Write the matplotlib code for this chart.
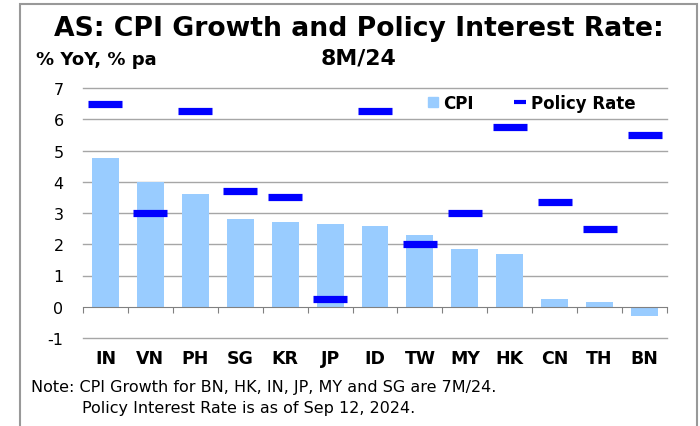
import matplotlib.pyplot as plt
from matplotlib.lines import Line2D
from matplotlib.patches import Rectangle

countries = ["IN", "VN", "PH", "SG", "KR", "JP", "ID", "TW", "MY", "HK", "CN", "TH", "BN"]
cpi = [4.75, 4.0, 3.6, 2.8, 2.7, 2.65, 2.6, 2.3, 1.85, 1.7, 0.25, 0.15, -0.3]
policy = [6.5, 3.0, 6.25, 3.7, 3.5, 0.25, 6.25, 2.0, 3.0, 5.75, 3.35, 2.5, 5.5]
yticks = [-1, 0, 1, 2, 3, 4, 5, 6, 7]

bar_col = "#99CCFF"
rate_col = "#0000FF"
grid_col = "#A6A6A6"

plt.rcParams['font.family'] = ['DejaVu Sans']

fig = plt.figure(figsize=(7, 4.27), dpi=100)
ax = fig.add_axes([83/700, 1-339/427, (667-83)/700, (339-89)/427])

x = list(range(len(countries)))
ax.bar(x, cpi, width=0.6, color=bar_col, zorder=2)
ax.plot(x, policy, linestyle='none', marker='_', ms=25, mew=5.2, color=rate_col, zorder=3)

ax.set_xlim(-0.5, len(countries)-0.5)
ax.set_ylim(-1, 7)
ax.set_yticks(yticks)
ax.set_yticklabels([str(v) for v in yticks], fontsize=11.5)
ax.tick_params(axis='y', length=0, pad=14)
for v in yticks:
    if v != 0:
        ax.axhline(v, color=grid_col, lw=1, zorder=1, clip_on=False)

for s in ['left', 'right', 'top']:
    ax.spines[s].set_visible(False)
ax.spines['bottom'].set_position(('data', 0))
ax.spines['bottom'].set_color('#808080')
ax.spines['bottom'].set_zorder(4)
ax.set_xticks([i - 0.5 for i in range(len(countries)+1)])
ax.set_xticklabels([])
ax.tick_params(axis='x', length=4, direction='out', color='#808080')

for i, c in enumerate(countries):
    ax.text(i, -1.64, c, ha='center', va='center', fontsize=12.5, fontweight='bold')

handles = [Line2D([], [], linestyle='none', marker='s', ms=7.5, color=bar_col),
           Line2D([], [], linestyle='none', marker='_', ms=9, mew=3, color=rate_col)]
ax.legend(handles, ["CPI", "Policy Rate"], ncol=2, frameon=False, loc='center',
          bbox_to_anchor=((531-83)/584, (339-104)/250), prop={'size': 12, 'weight': 'bold'},
          handlelength=0.7, handletextpad=0.3, columnspacing=2.4)

fig.text(359/700, 1-29/427, "AS: CPI Growth and Policy Interest Rate:", ha='center', va='center',
         fontsize=19.2, fontweight='bold')
fig.text(359/700, 1-58/427, "8M/24", ha='center', va='center', fontsize=15.8, fontweight='bold')
fig.text(36/700, 1-60/427, "% YoY, % pa", ha='left', va='center', fontsize=13, fontweight='bold')

fig.text(31/700, 1-388/427, "Note: CPI Growth for BN, HK, IN, JP, MY and SG are 7M/24.", ha='left',
         va='center', fontsize=11.5)
fig.text(82/700, 1-409/427, "Policy Interest Rate is as of Sep 12, 2024.", ha='left',
         va='center', fontsize=11.5)

fig.patches.append(Rectangle((20/700, -0.1), (697-20)/700, 1.1-5/427, transform=fig.transFigure,
                             fill=False, edgecolor='#999999', lw=1.5))

fig.savefig("out.png", dpi=100)
